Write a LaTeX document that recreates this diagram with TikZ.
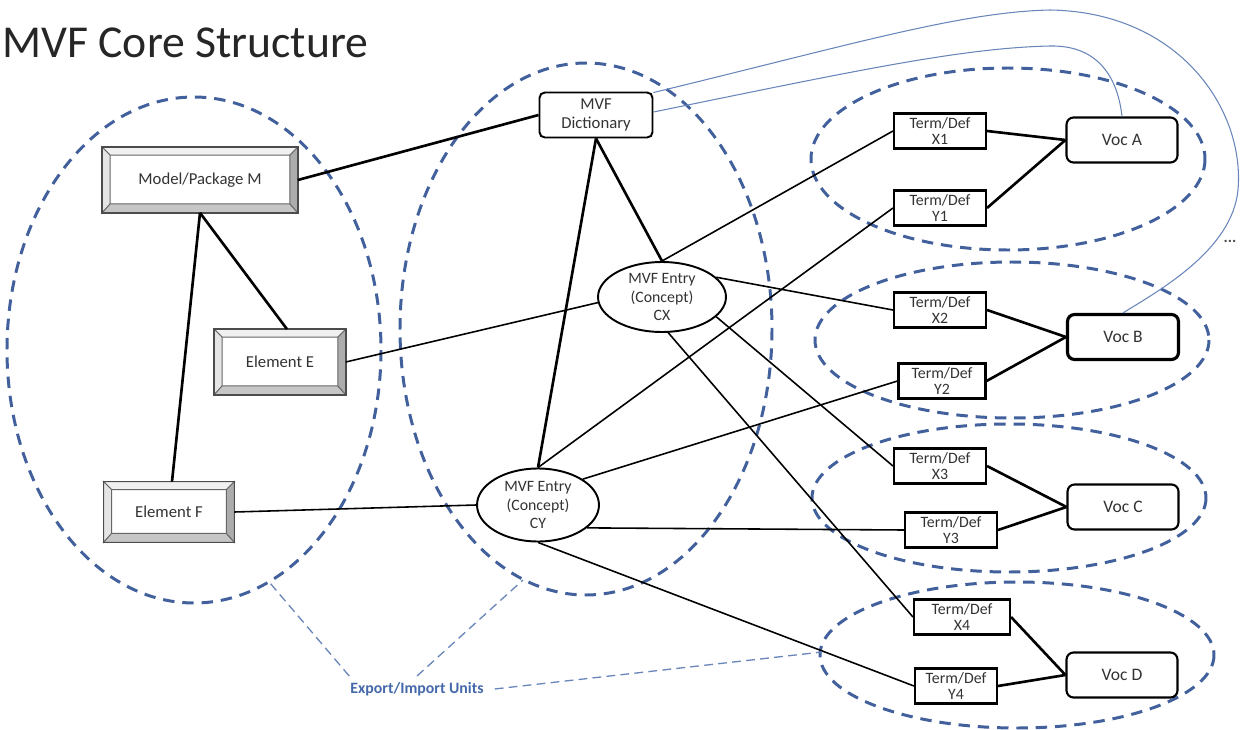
\documentclass[tikz,border=0pt]{standalone}
\usepackage{fontspec}
\setmainfont{Carlito}
\usetikzlibrary{shapes.geometric}
\definecolor{unitblue}{RGB}{66,96,156}
\definecolor{linkblue}{RGB}{104,134,186}
\definecolor{labelblue}{RGB}{68,104,170}
\tikzset{
  unit/.style={draw=unitblue,line width=1.7pt,dash pattern=on 6.5pt off 4.5pt},
  pointer/.style={draw=linkblue,line width=0.75pt,dash pattern=on 5pt off 3pt},
  bevelbox/.style={draw=black!70,fill=white,font=\fontsize{9.5}{11}\selectfont,text=black!80},
  dictbox/.style={draw,rounded corners=3pt,fill=white,line width=1.1pt,align=center,inner sep=0pt,
    minimum width=2.26cm,minimum height=0.9cm,font=\fontsize{9.5}{11.3}\selectfont,text=black!80},
  entry/.style={ellipse,draw,fill=white,line width=1.1pt,align=center,inner sep=0pt,
    font=\fontsize{9}{10.5}\selectfont,text=black!80},
  termbox/.style={draw,line width=1.2pt,fill=white,inner sep=0pt,minimum width=1.84cm,
    minimum height=0.7cm,align=center,font=\fontsize{9}{9.6}\selectfont,text=black!80},
  vocbox/.style={draw,rounded corners=4pt,line width=1.2pt,fill=white,minimum width=2.22cm,
    minimum height=0.9cm,font=\fontsize{10}{12}\selectfont,text=black!80},
  strong/.style={line width=1.5pt},
  weak/.style={line width=0.9pt},
  feed/.style={draw=linkblue,line width=0.6pt}
}
\begin{document}
\begin{tikzpicture}[x=0.02cm,y=-0.02cm]
  \useasboundingbox (0,0) rectangle (1242,730);
  %% title
  \node[anchor=base west,inner sep=0pt,font=\fontsize{26}{30}\selectfont,text=black!85] (title) at (2,57) {MVF Core Structure};
  %% export/import units
  \draw[unit] (194,350) ellipse [x radius=187, y radius=253];
  \draw[unit] (586,329) ellipse [x radius=186, y radius=266];
  \draw[unit] (1008,159) ellipse [x radius=197, y radius=91];
  \draw[unit] (1012,340) ellipse [x radius=197, y radius=78];
  \draw[unit] (1009,498) ellipse [x radius=197, y radius=74];
  \draw[unit] (1017,655) ellipse [x radius=197, y radius=73];
  %% model elements
  \node[bevelbox,minimum width=3.9cm,minimum height=1.3cm] (M) at (200,180) {Model/Package M};
  \node[bevelbox,minimum width=2.62cm,minimum height=1.3cm] (E) at (280,362) {Element E};
  \node[bevelbox,minimum width=2.6cm,minimum height=1.2cm] (F) at (169,512) {Element F};
  \foreach \b in {M,E,F}{
    \filldraw[fill=gray!12,draw=black!60,line width=0.5pt] (\b.north west) -- (\b.north east) -- ([shift={(-0.16cm,-0.16cm)}]\b.north east) -- ([shift={(0.16cm,-0.16cm)}]\b.north west) -- cycle;
    \filldraw[fill=gray!20,draw=black!60,line width=0.5pt] (\b.north west) -- (\b.south west) -- ([shift={(0.16cm,0.18cm)}]\b.south west) -- ([shift={(0.16cm,-0.16cm)}]\b.north west) -- cycle;
    \filldraw[fill=gray!45,draw=black!60,line width=0.5pt] (\b.south west) -- (\b.south east) -- ([shift={(-0.16cm,0.18cm)}]\b.south east) -- ([shift={(0.16cm,0.18cm)}]\b.south west) -- cycle;
    \filldraw[fill=gray!65,draw=black!60,line width=0.5pt] (\b.north east) -- (\b.south east) -- ([shift={(-0.16cm,0.18cm)}]\b.south east) -- ([shift={(-0.16cm,-0.16cm)}]\b.north east) -- cycle;
    \draw[black!70,line width=0.8pt] (\b.north west) rectangle (\b.south east);
  }
  %% dictionary and entries
  \node[dictbox] (Dict) at (596,115) {MVF\\Dictionary};
  \node[entry,minimum width=2.56cm,minimum height=1.4cm] (CX) at (662,297) {MVF Entry\\(Concept)\\CX};
  \node[entry,minimum width=2.44cm,minimum height=1.46cm] (CY) at (538,505) {MVF Entry\\(Concept)\\CY};
  %% terms
  \node[termbox] (X1) at (940,131) {Term/Def\\X1};
  \node[termbox] (Y1) at (940,208) {Term/Def\\Y1};
  \node[termbox] (X2) at (940,310) {Term/Def\\X2};
  \node[termbox,minimum width=1.74cm] (Y2) at (942,381) {Term/Def\\Y2};
  \node[termbox] (X3) at (940,466) {Term/Def\\X3};
  \node[termbox] (Y3) at (951,530) {Term/Def\\Y3};
  \node[termbox,minimum width=1.92cm] (X4) at (962,617) {Term/Def\\X4};
  \node[termbox,minimum width=1.64cm] (Y4) at (956,686) {Term/Def\\Y4};
  %% vocabularies
  \node[vocbox] (VocA) at (1122,140) {Voc A};
  \node[vocbox,line width=1.8pt] (VocB) at (1123,337) {Voc B};
  \node[vocbox] (VocC) at (1123,507) {Voc C};
  \node[vocbox] (VocD) at (1122,675) {Voc D};
  \node[font=\bfseries\fontsize{9}{10}\selectfont,text=black!70] (more) at (1230,241) {...};
  %% strong links
  \draw[strong] (M.east) -- (Dict.west);
  \draw[strong] (M.south) -- ([xshift=0.14cm]E.north);
  \draw[strong] (M.south) -- ([xshift=0.06cm]F.north);
  \draw[strong] (Dict.south) -- (CX.north);
  \draw[strong] (Dict.south) -- (CY.north);
  \draw[strong] (X1.east) -- (VocA.west);
  \draw[strong] (Y1.east) -- (VocA.west);
  \draw[strong] (X2.east) -- (VocB.west);
  \draw[strong] (Y2.east) -- (VocB.west);
  \draw[strong] (X3.east) -- (VocC.west);
  \draw[strong] (Y3.east) -- (VocC.west);
  \draw[strong] (X4.east) -- (VocD.west);
  \draw[strong] (Y4.east) -- (VocD.west);
  %% weak links
  \draw[weak] (E.east) -- (CX.185);
  \draw[weak] (F.east) -- (CY.west);
  \draw[weak] (CX.north) -- (X1.west);
  \draw[weak] (CX.20) -- (X2.west);
  \draw[weak] (CX.-20) -- (X3.west);
  \draw[weak] (CX.-80) -- (X4.west);
  \draw[weak] (CY.north) -- (Y1.west);
  \draw[weak] (CY.30) -- (Y2.west);
  \draw[weak] (CY.-25) -- (Y3.west);
  \draw[weak] (CY.south) -- (Y4.west);
  %% dictionary feeds
  \draw[feed] ([yshift=-0.02cm]Dict.north east) .. controls (850,45) and (960,12) .. (1050,10)
    .. controls (1180,12) and (1245,110) .. (1238,190) .. controls (1232,250) and (1160,290) .. (VocB.north);
  \draw[feed] ([yshift=0.06cm]Dict.east) .. controls (850,72) and (960,48) .. (1050,46)
    .. controls (1100,45) and (1118,80) .. (VocA.north);
  %% label
  \node[font=\bfseries\fontsize{9}{10}\selectfont,text=labelblue] (EIU) at (417,689) {Export/Import Units};
  \coordinate (leftfoot) at (270,583);
  \coordinate (midfoot) at (523,580);
  \coordinate (vocfoot) at (822,652);
  \draw[pointer] ([xshift=0.1cm]EIU.north west) -- (leftfoot);
  \draw[pointer] (EIU.north) -- (midfoot);
  \draw[pointer] ([xshift=0.1cm]EIU.east) -- (vocfoot);
\end{tikzpicture}
\end{document}
